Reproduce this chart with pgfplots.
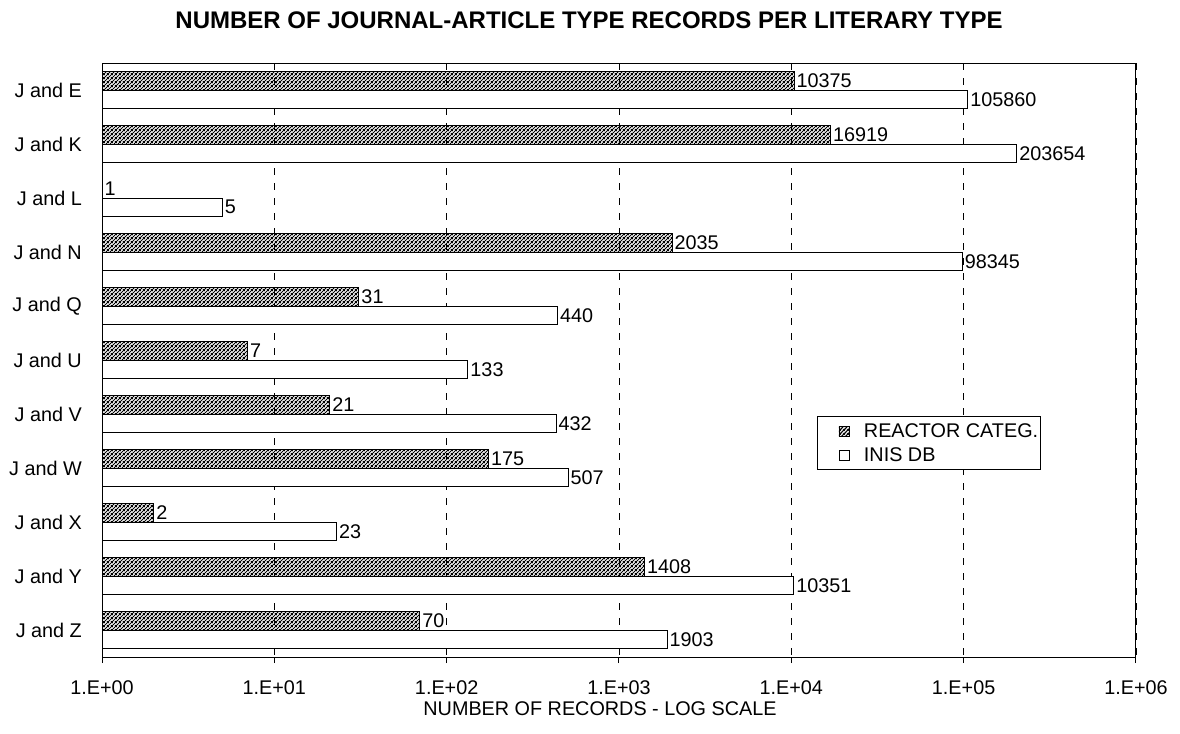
\documentclass[border=0pt]{standalone}
\usepackage{fontspec}
\setmainfont{Liberation Sans}
\usepackage{pgfplots}
\usepackage{pgfplotstable}
\pgfplotsset{compat=1.18}
\usetikzlibrary{patterns}
\pgfdeclarepatternformonly{hatch}{\pgfqpoint{0bp}{0bp}}{\pgfqpoint{4bp}{4bp}}{\pgfqpoint{4bp}{4bp}}{%
  \pgfsetlinewidth{1.3bp}%
  \pgfpathmoveto{\pgfqpoint{-1bp}{-1bp}}%
  \pgfpathlineto{\pgfqpoint{5bp}{5bp}}%
  \pgfpathmoveto{\pgfqpoint{-1bp}{3bp}}%
  \pgfpathlineto{\pgfqpoint{1bp}{5bp}}%
  \pgfpathmoveto{\pgfqpoint{3bp}{-1bp}}%
  \pgfpathlineto{\pgfqpoint{5bp}{1bp}}%
  \pgfusepath{stroke}}
\newcommand\fs{\fontsize{19.8bp}{23bp}\selectfont}

\pgfplotstableread{
y x label
0 10375 10375
1 16919 16919
2 1 1
3 2035 2035
4 31 31
5 7 7
6 21 21
7 175 175
8 2 2
9 1408 1408
10 70 70
}\reactor

\pgfplotstableread{
y x label
0 105860 105860
1 203654 203654
2 5 5
3 98345 98345
4 440 440
5 133 133
6 432 432
7 507 507
8 23 23
9 10351 10351
10 1903 1903
}\inis

\begin{document}
\begin{tikzpicture}
\path[use as bounding box] (0,0) rectangle (1180bp,-734bp);
\node[font=\bfseries\fontsize{24bp}{27bp}\selectfont, anchor=base] at (589bp,-28bp) {NUMBER OF JOURNAL-ARTICLE TYPE RECORDS PER LITERARY TYPE};
\node[font=\fs, anchor=base] at (600bp,-715bp) {NUMBER OF RECORDS - LOG SCALE};
\begin{axis}[
  at={(102bp,-63bp)}, anchor=north west,
  scale only axis, width=1034bp, height=594bp,
  xmode=log, log basis x=10, xmin=1, xmax=1000000,
  ymin=-0.5, ymax=10.5, y dir=reverse,
  xbar=0pt, bar width=18.5bp,
  ytick={0,...,10},
  yticklabels={J and E,J and K,J and L,J and N,J and Q,J and U,J and V,J and W,J and X,J and Y,J and Z},
  xtick={1,10,100,1000,10000,100000,1000000},
  xticklabels={\mbox{1.E+00},\mbox{1.E+01},\mbox{1.E+02},\mbox{1.E+03},\mbox{1.E+04},\mbox{1.E+05},\mbox{1.E+06}},
  xtick pos=bottom, tick align=outside, major tick length=6bp,
  ytick style={draw=none},
  xtick style={black, line width=1bp},
  yticklabel style={font=\fs, inner sep=0pt, xshift=-14bp},
  xticklabel style={font=\fs, inner sep=0pt, yshift=-17bp},
  /pgf/number format/assume math mode=true,
  xmajorgrids, grid style={black, dash pattern=on 7bp off 8bp, line width=0.9bp},
  axis line style={black, line width=1bp},
  nodes near coords, point meta=explicit symbolic,
  every node near coord/.append style={font=\fs, inner sep=2bp, anchor=west, black},
  legend style={at={(0.692,0.405)}, anchor=north west, draw=black, line width=1bp,
    font=\fs, inner xsep=0bp, inner ysep=5bp, row sep=4bp, legend cell align=left},
  legend image code/.code={\path[draw=none, fill=none] (0bp,0bp) (44bp,0bp); \draw[#1, line width=0.8bp] (21bp,-5bp) rectangle (31bp,5bp);},
]
\addplot[draw=black, line width=1bp, pattern=hatch, bar shift=9.25bp] table[x=x, y=y, meta=label] {\reactor};
\addlegendentry{REACTOR CATEG.}
\addplot[draw=black, line width=1bp, fill=white, bar shift=-9.25bp] table[x=x, y=y, meta=label] {\inis};
\addlegendentry{INIS DB}
\end{axis}
\end{tikzpicture}
\end{document}
